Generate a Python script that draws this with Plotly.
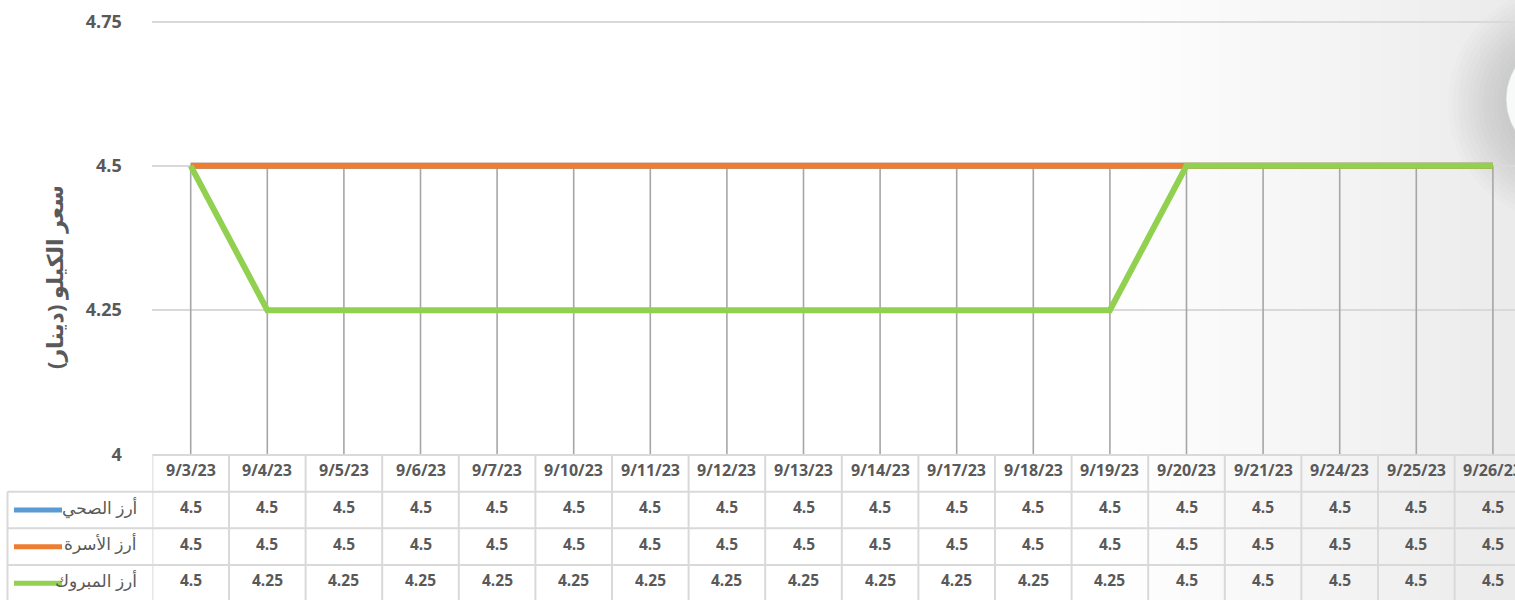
import plotly.graph_objects as go

categories = ["9/3/23", "9/4/23", "9/5/23", "9/6/23", "9/7/23", "9/10/23", "9/11/23",
              "9/12/23", "9/13/23", "9/14/23", "9/17/23", "9/18/23", "9/19/23",
              "9/20/23", "9/21/23", "9/24/23", "9/25/23", "9/26/23"]
series_names = ["أرز الصحي", "أرز الأسرة", "أرز المبروك"]
sahi = [4.5] * 18
usra = [4.5] * 18
mabrook = [4.5, 4.25, 4.25, 4.25, 4.25, 4.25, 4.25, 4.25, 4.25, 4.25, 4.25, 4.25, 4.25,
           4.5, 4.5, 4.5, 4.5, 4.5]
series_values = [sahi, usra, mabrook]
series_colors = ["#5b9bd5", "#ed7d31", "#92d050"]
y_ticks = [4, 4.25, 4.5, 4.75]
y_title = "سعر الكيلو (دينار)"

W, H = 1515, 600
TXT = "#595959"
GRID = "#d9d9d9"
FONT = "Open Sans, DejaVu Sans, sans-serif"

def py(p):  # pixel y -> paper
    return 1 - p / H

def px(p):
    return p / W

n = len(categories)
left_px = 152.4
step_px = 76.6
x_max = (W - left_px) / step_px - 0.5

fig = go.Figure()

# drop lines from highest value down to the axis
dx, dy = [], []
for i in range(n):
    top = max(s[i] for s in series_values)
    dx += [i, i, None]
    dy += [y_ticks[0], top, None]
fig.add_trace(go.Scatter(x=dx, y=dy, mode="lines", line=dict(color="#a6a6a6", width=1.6),
                         hoverinfo="skip", showlegend=False))

for name, vals, col in zip(series_names, series_values, series_colors):
    fig.add_trace(go.Scatter(x=list(range(n)), y=vals, mode="lines", name=name,
                             line=dict(color=col, width=6), showlegend=False))

shapes = []
# soft background tint on right side
for k in range(20):
    x0 = 1120 + k * 20
    shapes.append(dict(type="rect", xref="paper", yref="paper", x0=px(x0), x1=1, y0=0, y1=1,
                       fillcolor="rgba(150,160,155,0.006)", line_width=0, layer="below"))
# sphere shadow
cx, cy = 1566, 104
for k in range(12):
    r = 118 - k * 5
    shapes.append(dict(type="circle", xref="paper", yref="paper", x0=px(cx - r), x1=px(cx + r),
                       y0=py(cy + r), y1=py(cy - r), fillcolor="rgba(110,118,115,0.022)",
                       line_width=0, layer="below"))
r = 60
shapes.append(dict(type="circle", xref="paper", yref="paper", x0=px(cx - r), x1=px(cx + r),
                   y0=py(99 + r), y1=py(99 - r), fillcolor="#f8f9f9",
                   line=dict(color="rgba(200,205,205,0.6)", width=1), layer="below"))

# table geometry
header_top = 455
row_edges = [491.7, 528.3, 565, 601.6]
text_lift = 3
line_style = dict(color=GRID, width=2)
for i in range(n + 1):
    shapes.append(dict(type="line", xref="x", yref="paper", x0=i - 0.5, x1=i - 0.5,
                       y0=0, y1=py(header_top), line=line_style))
shapes.append(dict(type="line", xref="paper", yref="paper", x0=px(left_px), x1=1,
                   y0=py(header_top), y1=py(header_top), line=line_style))
for e in row_edges[:-1]:
    shapes.append(dict(type="line", xref="paper", yref="paper", x0=px(7.5), x1=1,
                       y0=py(e), y1=py(e), line=line_style))
shapes.append(dict(type="line", xref="paper", yref="paper", x0=px(7.5), x1=px(7.5),
                   y0=0, y1=py(row_edges[0]), line=line_style))

annotations = []
head_font = dict(family=FONT, size=16, color=TXT, weight="bold")
cell_font = dict(family=FONT, size=15.5, color=TXT, weight="bold")
header_c = (header_top + row_edges[0]) / 2 - text_lift
for i, c in enumerate(categories):
    annotations.append(dict(x=i, y=py(header_c), xref="x", yref="paper", text=c,
                            showarrow=False, font=head_font,
                            xanchor="center", yanchor="middle"))
for r_i, (name, vals, col) in enumerate(zip(series_names, series_values, series_colors)):
    cy_px = (row_edges[r_i] + row_edges[r_i + 1]) / 2
    for i, v in enumerate(vals):
        annotations.append(dict(x=i, y=py(cy_px - text_lift), xref="x", yref="paper", text=f"{v:g}",
                                showarrow=False, font=cell_font,
                                xanchor="center", yanchor="middle"))
    annotations.append(dict(x=px(139), y=py(cy_px - 3), xref="paper", yref="paper", text=name,
                            showarrow=False, font=dict(family=FONT, size=17, color=TXT),
                            xanchor="right", yanchor="middle"))
    shapes.append(dict(type="line", xref="paper", yref="paper", x0=px(14), x1=px(62),
                       y0=py(cy_px), y1=py(cy_px), line=dict(color=col, width=5)))

annotations.append(dict(x=px(54), y=py(277), xref="paper", yref="paper", text=y_title,
                        textangle=-90, showarrow=False,
                        font=dict(family=FONT, size=22, color=TXT, weight="bold"),
                        xanchor="center", yanchor="middle"))

fig.update_layout(
    width=W, height=H, autosize=False,
    margin=dict(l=0, r=0, t=0, b=0, pad=0, autoexpand=False),
    paper_bgcolor="white", plot_bgcolor="rgba(0,0,0,0)",
    showlegend=False,
    shapes=shapes, annotations=annotations,
    xaxis=dict(domain=[px(left_px), 1], range=[-0.5, x_max], showgrid=False, zeroline=False,
               showticklabels=False, showline=False, fixedrange=True, automargin=False),
    yaxis=dict(domain=[py(454.5), py(20.5)], range=[4, 4.7518], tickvals=y_ticks,
               ticktext=[f"{t:g}" for t in y_ticks], automargin=False,
               showgrid=True, gridcolor=GRID, gridwidth=1.5, zeroline=False, showline=False,
               ticks="outside", ticklen=26, tickcolor="rgba(0,0,0,0)",
               tickfont=dict(family=FONT, size=18, color=TXT, weight="bold"), fixedrange=True),
)

post = (
    "var gd=document.getElementById('{plot_id}');"
    "[document.documentElement, document.body].forEach(function(e){"
    "e.style.margin='0';e.style.padding='0';e.style.overflow='hidden';e.style.height='600px';});"
    "gd.style.position='fixed';gd.style.left='0px';gd.style.top='0px';"
)
fig.write_html("out.html", config={"displayModeBar": False}, post_script=post)
